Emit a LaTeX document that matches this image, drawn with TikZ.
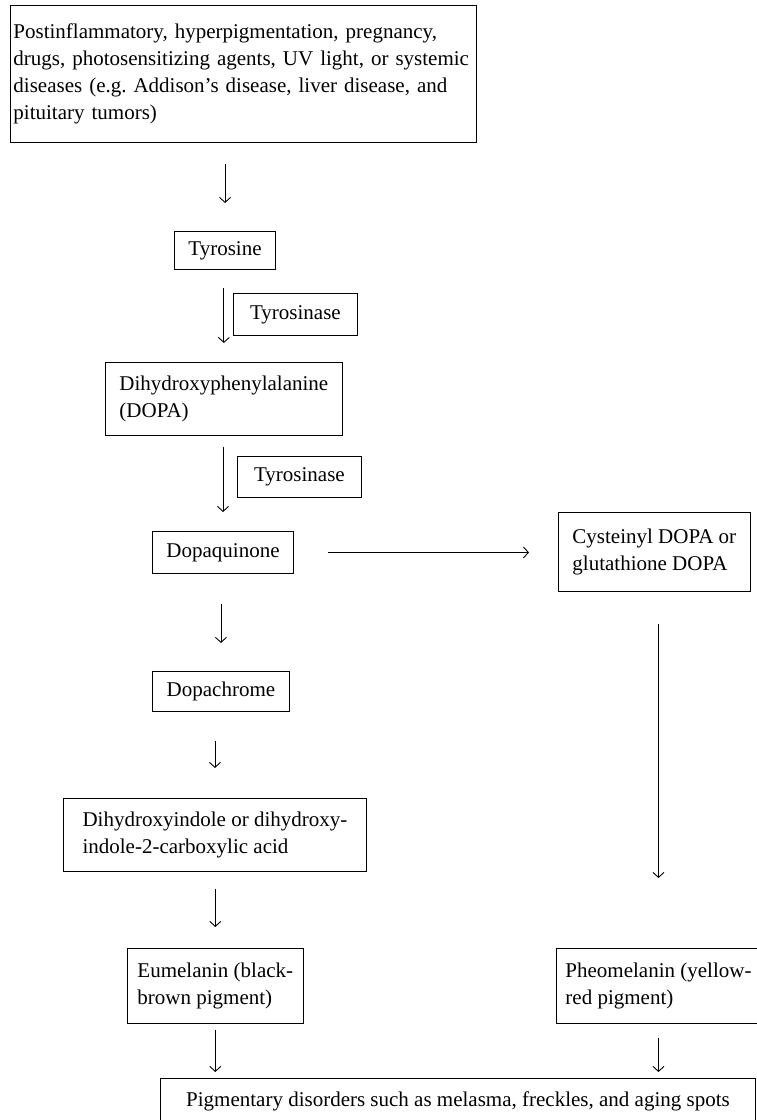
\documentclass[tikz,border=0pt]{standalone}
\usepackage{fontspec}
\setmainfont{Liberation Serif}
\frenchspacing
\usetikzlibrary{arrows.meta}

\begin{document}
\begin{tikzpicture}[x=1pt, y=-1pt,
  stage/.style={draw, line width=0.9pt, anchor=north west, align=left, inner xsep=14pt, inner ysep=0pt, font=\fontsize{21}{27}\selectfont},
  flow/.style={draw, line width=0.9pt, -{Straight Barb[length=5pt, width=11pt]}}]

\useasboundingbox (0,0) rectangle (756,1120);

\node[stage, inner xsep=3pt, text width=460pt, minimum height=137pt] (cause) at (10,5) {Postinflammatory, hyperpigmentation, pregnancy,\\drugs, photosensitizing agents, UV light, or systemic\\diseases (e.g. Addison’s disease, liver disease, and\\pituitary tumors)};
\node[stage, minimum width=99pt, minimum height=38pt] (tyr) at (174,231) {Tyrosine};
\node[stage, minimum width=124pt, minimum height=42pt] (enza) at (233,293) {Tyrosinase};
\node[stage, minimum width=233pt, minimum height=73pt] (dopa) at (105,362) {Dihydroxyphenylalanine\\(DOPA)};
\node[stage, minimum width=124pt, minimum height=41pt] (enzb) at (237,456) {Tyrosinase};
\node[stage, minimum width=141pt, minimum height=42pt] (dq) at (152,531) {Dopaquinone};
\node[stage, minimum width=190pt, minimum height=79pt] (cys) at (558,512) {Cysteinyl DOPA or\\glutathione DOPA};
\node[stage, minimum width=137pt, minimum height=40pt] (dc) at (152,671) {Dopachrome};
\node[stage, minimum width=303pt, minimum height=73pt] (dhi) at (63,798) {Dihydroxyindole or dihydroxy-\\indole-2-carboxylic acid};
\node[stage, inner xsep=10pt, minimum width=175pt, minimum height=75pt] (eu) at (127,948) {Eumelanin (black-\\brown pigment)};
\node[stage, inner xsep=8pt, minimum width=204pt, minimum height=75pt] (pheo) at (556,948) {Pheomelanin (yellow-\\red pigment)};
\node[stage, inner xsep=16pt, minimum width=595pt, minimum height=46pt] (dis) at (160,1078) {Pigmentary disorders such as melasma, freckles, and aging spots};

\draw[flow, shorten <=21pt, shorten >=28pt] (tyr.north |- cause.south) -- (tyr.north);
\draw[flow, shorten <=18pt, shorten >=19pt] (dopa.north |- tyr.south) -- (dopa.north);
\draw[flow, shorten <=11pt, shorten >=19pt] (dq.north |- dopa.south) -- (dq.north);
\draw[flow, shorten <=30pt, shorten >=28pt] (dc.north |- dq.south) -- (dc.north);
\draw[flow, shorten <=29pt, shorten >=30pt] (dhi.north |- dc.south) -- (dhi.north);
\draw[flow, shorten <=17pt, shorten >=21pt] (eu.north |- dhi.south) -- (eu.north);
\draw[flow, shorten <=6pt, shorten >=6pt] (eu.south) -- (eu.south |- dis.north);

\draw[flow, shorten <=34pt, shorten >=29pt] (dq.east) -- (cys.west |- dq.east);
\draw[flow, shorten <=32pt, shorten >=70pt] (pheo.north |- cys.south) -- (pheo.north);
\draw[flow, shorten <=14pt, shorten >=6pt] (pheo.south) -- (pheo.south |- dis.north);

\end{tikzpicture}
\end{document}
